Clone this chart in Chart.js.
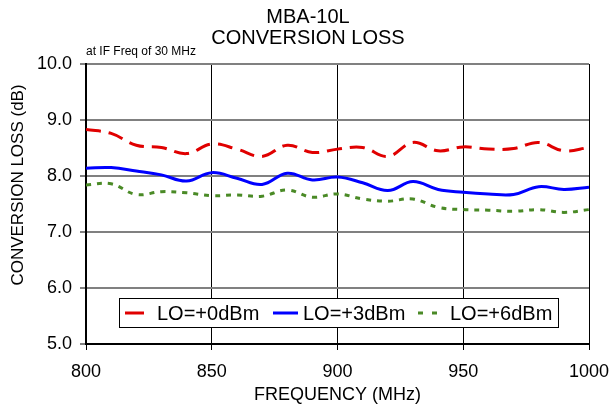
<!DOCTYPE html>
<html>
<head>
<meta charset="utf-8">
<script src="https://cdn.jsdelivr.net/npm/chart.js@4"></script>
<style>
  html, body { margin: 0; padding: 0; background: #fff; }
  #wrap { width: 610px; height: 411px; }
</style>
</head>
<body>
<div id="wrap"><canvas id="myChart" width="610" height="411"></canvas></div>
<script>
'use strict';

// ** DATA **

let frequencies = [800, 810, 820, 830, 840, 850, 860, 870, 880, 890, 900, 910, 920, 930, 940, 950, 960, 970, 980, 990, 1000];
let lo0Loss = [8.83, 8.76, 8.55, 8.51, 8.40, 8.57, 8.48, 8.35, 8.55, 8.42, 8.48, 8.51, 8.35, 8.60, 8.45, 8.52, 8.48, 8.49, 8.60, 8.45, 8.51];
let lo3Loss = [8.14, 8.15, 8.09, 8.02, 7.91, 8.06, 7.96, 7.85, 8.05, 7.93, 7.98, 7.88, 7.74, 7.90, 7.76, 7.71, 7.68, 7.67, 7.81, 7.76, 7.80];
let lo6Loss = [7.84, 7.86, 7.67, 7.72, 7.70, 7.65, 7.66, 7.64, 7.75, 7.62, 7.68, 7.59, 7.55, 7.59, 7.44, 7.40, 7.39, 7.37, 7.40, 7.35, 7.40];
let seriesLabels = ['LO=+0dBm', 'LO=+3dBm', 'LO=+6dBm'];
let xTicks = [800, 850, 900, 950, 1000];
let yTicks = [5, 6, 7, 8, 9, 10];

const FONT = 'Arial, "Liberation Sans", sans-serif';
const ctx = document.getElementById('myChart');

function toPoints(values) {
  return frequencies.map((f, i) => ({ x: f, y: values[i] }));
}

// ** TEXT + LEGEND PLUGIN **
// the legend sits inside the plot, so it is drawn by hand from the datasets

let decorPlugin = {
  id: 'decor',
  afterDraw(chart) {
    let c = chart.ctx;
    let area = chart.chartArea;
    c.save();
    c.fillStyle = '#000';
    c.textAlign = 'center';
    c.textBaseline = 'alphabetic';
    c.font = '20px ' + FONT;
    c.fillText('MBA-10L', 308, 23);
    c.fillText('CONVERSION LOSS', 308, 44);
    c.textAlign = 'left';
    c.font = '12px ' + FONT;
    c.fillText('at IF Freq of 30 MHz', area.left, 55);

    // y axis title, sits a bit above the middle of the plot
    c.save();
    c.translate(18, 185);
    c.rotate(-Math.PI / 2);
    c.textAlign = 'center';
    c.textBaseline = 'middle';
    c.font = '17px ' + FONT;
    c.fillText('CONVERSION LOSS (dB)', 0, 0);
    c.restore();

    // legend box
    let box = { x: 119, y: 298, w: 439, h: 29 };
    c.fillStyle = '#fff';
    c.fillRect(box.x, box.y, box.w, box.h);
    c.strokeStyle = '#000';
    c.lineWidth = 1;
    c.strokeRect(box.x + 0.5, box.y + 0.5, box.w, box.h);

    let itemX = [125, 273, 418];
    let symbolW = [19, 25, 22];
    let textX = [157, 303, 450];
    c.font = '20px ' + FONT;
    c.textBaseline = 'middle';
    chart.data.datasets.forEach((ds, i) => {
      let midY = box.y + box.h / 2 + 0.5;
      c.strokeStyle = ds.borderColor;
      c.lineWidth = ds.borderWidth;
      c.setLineDash(i === 2 ? [5, 9] : []);
      c.beginPath();
      c.moveTo(itemX[i], midY);
      c.lineTo(itemX[i] + symbolW[i], midY);
      c.stroke();
      c.setLineDash([]);
      c.fillStyle = '#000';
      c.fillText(ds.label, textX[i], midY + 1);
    });
    c.restore();
  }
};

// ** CHART **

let myChartObj = {
  type: 'line',
  data: {
    datasets: [{
      label: seriesLabels[0],
      data: toPoints(lo0Loss),
      borderColor: '#e00000',
      borderWidth: 3,
      borderDash: [15, 8],
      pointRadius: 0,
      tension: 0.4,
      fill: false
    },
    {
      label: seriesLabels[1],
      data: toPoints(lo3Loss),
      borderColor: '#0000ff',
      borderWidth: 3,
      pointRadius: 0,
      tension: 0.4,
      fill: false
    },
    {
      label: seriesLabels[2],
      data: toPoints(lo6Loss),
      borderColor: '#4a8a26',
      borderWidth: 3,
      borderDash: [5, 6],
      pointRadius: 0,
      tension: 0.4,
      fill: false
    }]
  },
  options: {
    responsive: false,
    animation: false,
    devicePixelRatio: 1,
    layout: {
      padding: { top: 64, right: 21, bottom: 0, left: 0 }
    },
    plugins: {
      legend: { display: false },
      title: { display: false },
      tooltip: { enabled: false }
    },
    scales: {
      x: {
        type: 'linear',
        min: 800,
        max: 1000,
        afterBuildTicks(scale) {
          scale.ticks = xTicks.map(v => ({ value: v }));
        },
        afterFit(scale) {
          // fixed box, the layout padding handles the overhanging "1000"
          scale.height = 67;
          scale.paddingLeft = 0;
          scale.paddingRight = 0;
        },
        ticks: {
          color: '#000',
          font: { family: FONT, size: 18 },
          padding: 11,
          maxRotation: 0,
          callback: v => String(v)
        },
        grid: {
          color: '#000',
          lineWidth: 1,
          tickLength: 6,
          drawTicks: true
        },
        border: { color: '#000', width: 2 },
        title: {
          display: true,
          text: 'FREQUENCY (MHz)',
          color: '#000',
          font: { family: FONT, size: 18 },
          padding: { top: 0, bottom: 5 }
        }
      },
      y: {
        min: 5,
        max: 10,
        afterBuildTicks(scale) {
          scale.ticks = yTicks.map(v => ({ value: v }));
        },
        afterFit(scale) {
          scale.width = 86;
        },
        ticks: {
          color: '#000',
          font: { family: FONT, size: 18 },
          padding: 8,
          callback: v => v.toFixed(1)
        },
        grid: {
          color: '#808080',
          lineWidth: 2,
          tickLength: 6
        },
        border: { color: '#000', width: 2 }
      }
    }
  },
  plugins: [decorPlugin]
};

new Chart(ctx, myChartObj);
</script>
</body>
</html>
